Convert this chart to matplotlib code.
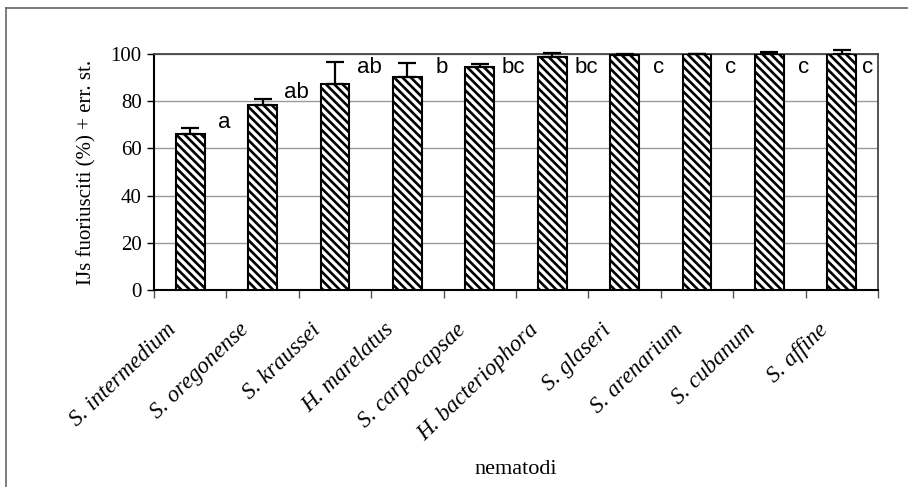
import matplotlib
matplotlib.use("Agg")
import matplotlib.pyplot as plt
import matplotlib.transforms as mtransforms
from matplotlib.lines import Line2D
import numpy as np

# data
nematodes = ["S. intermedium", "S. oregonense", "S. kraussei", "H. marelatus",
             "S. carpocapsae", "H. bacteriophora", "S. glaseri", "S. arenarium",
             "S. cubanum", "S. affine"]
emerged = [66.0, 78.5, 87.4, 90.3, 94.5, 98.7, 99.5, 100.0, 100.0, 100.0]
std_err = [2.5, 2.5, 9.0, 6.0, 1.1, 1.8, 0.5, 0.0, 1.0, 1.5]
letters = ["a", "ab", "ab", "b", "bc", "bc", "c", "c", "c", "c"]

plt.rcParams["hatch.linewidth"] = 1.9
plt.rcParams["font.family"] = "Liberation Serif"

fig = plt.figure(figsize=(9.08, 4.87), dpi=100)
ax = fig.add_axes([154 / 908, 1 - 290 / 487, (878 - 154) / 908, (290 - 54) / 487])

x = np.arange(len(nematodes))
ax.bar(x, emerged, width=0.4, color="white", edgecolor="black",
       linewidth=1.5, hatch="\\\\\\\\", zorder=3)
ax.errorbar(x, emerged, yerr=[np.zeros(len(x)), std_err], fmt="none",
            ecolor="black", elinewidth=1.6, capsize=6.5, capthick=1.6,
            zorder=4, clip_on=False)

# significance letters
for i, (v, e, lt) in enumerate(zip(emerged, std_err, letters)):
    ty = min(v + e + 2.5, 94.3)
    tx = min(i + 0.47, 9.36)
    ax.text(tx, ty, lt, ha="center", va="center", fontsize=16,
            family="Liberation Sans", zorder=5)

ax.set_xlim(-0.5, 9.5)
ax.set_ylim(0, 100)
ax.set_yticks(range(0, 101, 20))
ax.yaxis.grid(True, color="#999999", linewidth=1.0, zorder=0)
ax.tick_params(axis="y", direction="out", length=5, width=1, labelsize=15, pad=4)

ax.set_xticks(x)
ax.set_xticklabels(nematodes, rotation=44, ha="right", va="center",
                   rotation_mode="anchor", style="italic", fontsize=16.5)
ax.set_xticks(np.arange(-0.5, 10, 1), minor=True)
ax.tick_params(axis="x", which="major", length=0, pad=0)
ax.tick_params(axis="x", which="minor", direction="out", length=6, width=1,
               color="#555555")
shift = mtransforms.ScaledTranslation(-0.17, -0.37, fig.dpi_scale_trans)
for lbl in ax.get_xticklabels():
    lbl.set_transform(lbl.get_transform() + shift)

for side in ["left", "bottom"]:
    ax.spines[side].set_color("black")
    ax.spines[side].set_linewidth(1.5)
for side in ["top", "right"]:
    ax.spines[side].set_color("#444444")
    ax.spines[side].set_linewidth(1.3)

ax.set_ylabel("IJs fuoriusciti (%) + err. st.", fontsize=15, labelpad=10)
ax.set_xlabel("nematodi", fontsize=16, labelpad=0)
ax.xaxis.set_label_coords(0.5, -0.72)

# outer frame of the figure
fig.add_artist(Line2D([6 / 908, 6 / 908], [0, 1 - 8 / 487],
                      transform=fig.transFigure, color="#666666", linewidth=1.2))
fig.add_artist(Line2D([6 / 908, 1], [1 - 8 / 487, 1 - 8 / 487],
                      transform=fig.transFigure, color="#666666", linewidth=1.2))

fig.savefig("out.png", dpi=100)
